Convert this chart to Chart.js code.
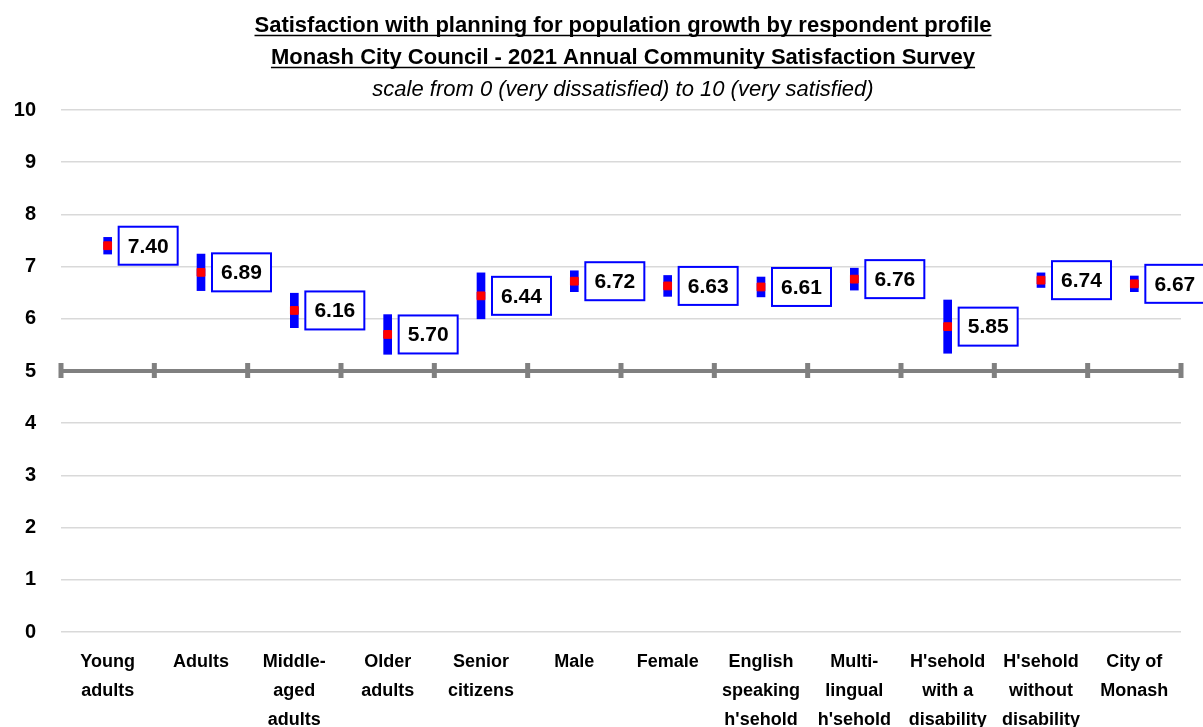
<!DOCTYPE html>
<html>
<head>
<meta charset="utf-8">
<script src="https://cdn.jsdelivr.net/npm/chart.js@4.4.1/dist/chart.umd.min.js"></script>
<style>
  html, body { margin: 0; padding: 0; background: #ffffff; }
  #wrap { width: 1203px; height: 727px; position: relative; }
</style>
</head>
<body>
<div id="wrap"><canvas id="c" width="1203" height="727"></canvas></div>
<script>
const titleLines = [
  "Satisfaction with planning for population growth by respondent profile",
  "Monash City Council - 2021 Annual Community Satisfaction Survey"
];
const subtitleText = "scale from 0 (very dissatisfied) to 10 (very satisfied)";

const categories = [
  ["Young", "adults"],
  ["Adults"],
  ["Middle-", "aged", "adults"],
  ["Older", "adults"],
  ["Senior", "citizens"],
  ["Male"],
  ["Female"],
  ["English", "speaking", "h'sehold"],
  ["Multi-", "lingual", "h'sehold"],
  ["H'sehold", "with a", "disability"],
  ["H'sehold", "without", "disability"],
  ["City of", "Monash"]
];
const means = [7.40, 6.89, 6.16, 5.70, 6.44, 6.72, 6.63, 6.61, 6.76, 5.85, 6.74, 6.67];
const lower = [7.24, 6.54, 5.83, 5.32, 6.00, 6.52, 6.43, 6.42, 6.55, 5.34, 6.60, 6.52];
const upper = [7.56, 7.24, 6.49, 6.08, 6.88, 6.92, 6.83, 6.80, 6.97, 6.36, 6.88, 6.82];
const yTicks = [0, 1, 2, 3, 4, 5, 6, 7, 8, 9, 10];
const axisValue = 5;

const FONT = "'Liberation Sans', Arial, sans-serif";

const titlePlugin = {
  id: 'customTitle',
  afterDraw(chart) {
    const ctx = chart.ctx;
    const ca = chart.chartArea;
    const cx = (ca.left + ca.right) / 2 + 2;
    ctx.save();
    ctx.fillStyle = '#000';
    ctx.strokeStyle = '#000';
    ctx.textAlign = 'center';
    ctx.textBaseline = 'alphabetic';
    ctx.font = "bold 22px " + FONT;
    const ys = [32, 64];
    titleLines.forEach((t, i) => {
      ctx.fillText(t, cx, ys[i]);
      const w = ctx.measureText(t).width;
      ctx.lineWidth = 1.5;
      ctx.beginPath();
      ctx.moveTo(cx - w / 2, ys[i] + 3.5);
      ctx.lineTo(cx + w / 2, ys[i] + 3.5);
      ctx.stroke();
    });
    ctx.font = "italic 22px " + FONT;
    ctx.fillText(subtitleText, cx, 96);
    ctx.restore();
  }
};

const axisPlugin = {
  id: 'midAxis',
  beforeDatasetsDraw(chart) {
    const ctx = chart.ctx;
    const ca = chart.chartArea;
    const xs = chart.scales.x;
    const y = chart.scales.y.getPixelForValue(axisValue);
    ctx.save();
    ctx.strokeStyle = '#808080';
    ctx.lineWidth = 4;
    ctx.beginPath();
    ctx.moveTo(ca.left, y);
    ctx.lineTo(ca.right, y);
    ctx.stroke();
    const bounds = [ca.left];
    for (let i = 0; i < categories.length - 1; i++) {
      bounds.push((xs.getPixelForValue(i) + xs.getPixelForValue(i + 1)) / 2);
    }
    bounds.push(ca.right);
    ctx.fillStyle = '#808080';
    bounds.forEach(bx => {
      ctx.fillRect(bx - 2.5, y - 8, 5, 15);
    });
    ctx.restore();
  }
};

const labelPlugin = {
  id: 'boxLabels',
  afterDatasetsDraw(chart) {
    const ctx = chart.ctx;
    const meta = chart.getDatasetMeta(1);
    ctx.save();
    ctx.font = "bold 21px " + FONT;
    ctx.textAlign = 'center';
    ctx.textBaseline = 'middle';
    meta.data.forEach((pt, i) => {
      const bx = pt.x + 11, bw = 59, bh = 38;
      const by = pt.y - bh / 2;
      ctx.fillStyle = '#ffffff';
      ctx.fillRect(bx, by, bw, bh);
      ctx.strokeStyle = '#0000ff';
      ctx.lineWidth = 2;
      ctx.strokeRect(bx, by, bw, bh);
      ctx.fillStyle = '#000000';
      ctx.fillText(means[i].toFixed(2), bx + bw / 2, pt.y + 1);
    });
    ctx.restore();
  }
};

new Chart(document.getElementById('c'), {
  type: 'bar',
  data: {
    labels: categories,
    datasets: [
      {
        type: 'bar',
        label: 'Confidence interval',
        data: lower.map((l, i) => [l, upper[i]]),
        backgroundColor: '#0000ff',
        borderWidth: 0,
        barThickness: 8,
        order: 2
      },
      {
        type: 'line',
        label: 'Mean',
        data: means,
        showLine: false,
        pointStyle: 'rect',
        pointRadius: 5.5,
        pointBorderWidth: 1,
        pointBackgroundColor: '#ff0000',
        pointBorderColor: '#ff0000',
        order: 1
      }
    ]
  },
  options: {
    responsive: false,
    animation: false,
    layout: { padding: { top: 110, right: 22, bottom: 0, left: 0 } },
    plugins: {
      legend: { display: false },
      tooltip: { enabled: false },
      title: { display: false }
    },
    scales: {
      x: {
        offset: true,
        grid: { display: false, drawTicks: false },
        border: { display: false },
        ticks: {
          autoSkip: false,
          maxRotation: 0,
          minRotation: 0,
          padding: 16,
          color: '#000',
          font: { family: FONT, size: 18, weight: 'bold', lineHeight: 1.6 }
        },
        afterFit(scale) { scale.height = 95; }
      },
      y: {
        min: 0,
        max: 10,
        afterBuildTicks(scale) { scale.ticks = yTicks.map(v => ({ value: v })); },
        grid: { color: '#d9d9d9', lineWidth: 1.5, drawTicks: false },
        border: { display: false },
        ticks: {
          padding: 25,
          color: '#000',
          font: { family: FONT, size: 20, weight: 'bold' }
        },
        afterFit(scale) { scale.width = 61; }
      }
    }
  },
  plugins: [titlePlugin, axisPlugin, labelPlugin]
});
</script>
</body>
</html>
